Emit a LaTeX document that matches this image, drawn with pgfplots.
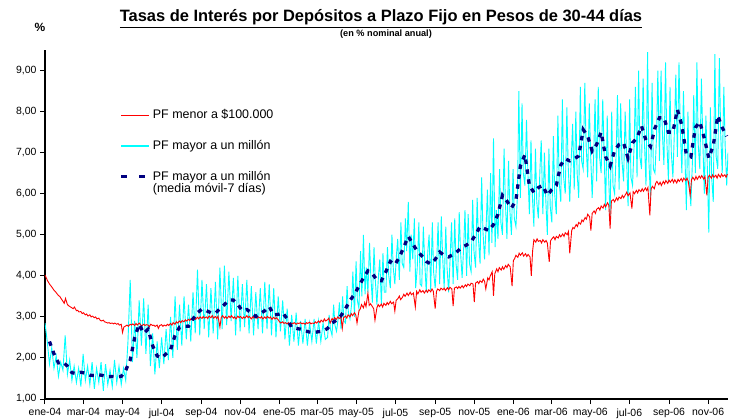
\documentclass[border=0pt]{standalone}
\usepackage{pgfplots}
\pgfplotsset{compat=1.18}
\usepackage{fontspec}
\setmainfont{Liberation Sans}
\definecolor{rojo}{RGB}{255,0,0}
\definecolor{celeste}{RGB}{0,255,255}
\definecolor{marino}{RGB}{0,0,128}

% PF menor a $100.000 (day since 1-Jan-2004, % n.a.)
\pgfplotstableread{
d v
0 4.02
2 3.95
4 3.88
7 3.80
9 3.76
11 3.72
14 3.65
16 3.62
18 3.58
21 3.52
23 3.50
25 3.45
28 3.38
30 3.33
32 3.45
35 3.30
37 3.27
39 3.25
42 3.22
44 3.20
46 3.24
49 3.15
51 3.16
53 3.12
56 3.13
58 3.08
60 3.10
63 3.05
65 3.07
67 3.02
70 3.05
72 3.00
74 3.02
77 2.98
79 3.00
81 2.95
84 2.97
86 2.92
88 2.90
91 2.92
93 2.88
95 2.87
98 2.85
100 2.86
102 2.84
105 2.85
107 2.83
109 2.85
112 2.82
114 2.84
116 2.80
119 2.82
121 2.62
123 2.75
126 2.78
128 2.80
130 2.77
133 2.82
135 2.80
137 2.83
140 2.79
142 2.84
144 2.80
147 2.85
149 2.81
151 2.78
154 2.82
156 2.79
158 2.81
161 2.80
163 2.76
165 2.82
168 2.79
170 2.80
172 2.77
175 2.80
177 2.72
179 2.79
182 2.81
184 2.77
186 2.80
189 2.78
191 2.82
193 2.79
196 2.84
198 2.80
200 2.86
203 2.82
205 2.88
207 2.85
210 2.90
212 2.86
214 2.91
217 2.88
219 2.93
221 2.90
224 2.94
226 2.91
228 2.96
231 2.92
233 2.97
235 2.94
238 2.99
240 2.95
242 3.00
245 2.96
247 3.01
249 2.97
252 3.00
254 2.96
256 3.02
259 2.98
261 3.03
263 2.97
266 3.01
268 2.96
270 3.02
273 2.75
275 2.98
277 3.03
280 2.97
282 3.01
284 2.96
287 3.02
289 2.98
291 3.03
294 2.97
296 3.00
298 2.95
301 3.02
303 2.98
305 3.01
308 2.96
310 3.00
312 2.97
315 3.03
317 2.98
319 3.01
322 2.95
324 3.00
326 2.97
329 3.02
331 2.96
333 3.00
336 2.97
338 3.01
340 2.95
343 3.00
345 2.96
347 3.01
350 2.97
352 3.00
354 2.94
357 2.99
359 2.95
361 2.98
364 2.93
366 2.88
368 2.85
371 2.88
373 2.84
375 2.86
378 2.83
380 2.86
382 2.82
385 2.85
387 2.83
389 2.86
392 2.82
394 2.85
396 2.84
399 2.86
401 2.83
403 2.85
406 2.82
408 2.86
410 2.84
413 2.87
415 2.83
417 2.85
420 2.84
422 2.88
424 2.85
427 2.90
429 2.86
431 2.92
434 2.88
436 2.95
438 2.90
441 2.93
443 2.97
445 2.85
448 2.96
450 2.92
452 2.98
455 2.94
457 3.00
459 2.96
462 2.99
464 2.72
466 2.98
469 3.02
471 2.97
473 3.05
476 3.00
478 3.08
480 3.03
483 3.10
485 3.05
487 2.85
490 3.15
492 3.19
494 3.30
497 3.22
499 3.35
501 3.25
504 3.58
506 3.28
508 3.32
511 3.25
513 3.20
515 2.92
518 3.22
520 3.30
522 3.25
525 3.31
527 3.24
529 3.33
532 3.28
534 3.35
536 3.30
539 3.38
541 3.32
544 3.36
546 3.14
548 3.40
551 3.45
553 3.51
555 3.42
558 3.48
560 3.55
562 3.50
565 3.58
567 3.52
570 3.60
572 3.54
575 3.58
578 3.24
580 3.62
582 3.56
585 3.66
587 3.60
590 3.64
592 3.58
595 3.65
597 3.60
599 3.66
602 3.61
604 3.68
606 3.63
609 3.20
611 3.62
613 3.68
616 3.64
618 3.70
621 3.66
623 3.70
625 3.64
628 3.71
630 3.66
632 3.72
635 3.68
637 3.26
639 3.70
642 3.73
644 3.69
646 3.74
648 3.70
651 3.76
653 3.71
656 3.78
658 3.74
660 3.80
663 3.76
665 3.82
668 3.80
670 3.36
672 3.82
675 3.86
677 3.81
679 3.88
682 3.84
684 3.92
686 3.87
688 3.68
691 3.95
693 3.90
695 4.00
698 4.10
700 3.51
702 4.05
705 4.17
707 4.10
709 4.20
712 4.14
714 4.22
716 4.16
719 4.25
721 4.20
723 4.28
726 4.22
729 3.75
731 4.37
733 4.42
735 4.50
738 4.45
740 4.55
742 4.50
745 4.56
747 4.48
750 4.54
752 4.47
754 4.52
757 4.46
759 4.00
761 4.60
763 4.88
766 4.82
768 4.90
770 4.84
773 4.86
775 4.80
777 4.88
780 4.82
782 4.86
784 4.80
787 4.34
789 4.85
791 4.90
794 4.95
796 4.88
798 4.96
801 4.92
803 5.00
805 4.95
808 5.02
810 4.96
812 5.05
815 5.00
817 5.08
819 4.55
822 5.10
824 5.18
826 5.15
829 5.25
831 5.20
833 5.30
836 5.26
838 5.36
840 5.32
843 5.42
845 5.38
847 5.50
850 5.44
852 5.10
854 5.52
857 5.58
859 5.52
861 5.62
864 5.66
866 5.60
868 5.70
871 5.65
873 5.74
875 5.68
878 5.78
880 5.72
882 5.15
884 5.82
887 5.86
889 5.80
892 5.90
894 5.84
896 5.92
899 5.88
901 5.96
903 5.90
906 5.98
908 6.04
910 5.95
913 6.02
916 5.64
918 6.05
920 6.00
923 6.08
925 6.02
927 6.10
930 6.05
932 6.12
934 6.06
937 6.14
939 6.08
941 6.15
944 5.47
946 6.12
948 6.18
951 6.12
953 6.25
955 6.30
958 6.22
960 6.28
962 6.20
965 6.30
967 6.24
969 6.32
972 6.25
974 6.33
976 6.28
979 6.35
981 6.27
983 6.34
986 6.26
988 6.35
990 6.30
993 6.37
995 6.30
997 6.38
1000 6.32
1002 6.38
1004 6.30
1007 5.96
1009 6.34
1011 6.40
1014 6.33
1016 6.42
1018 6.35
1021 6.43
1023 6.38
1025 6.44
1028 6.36
1030 6.42
1033 5.96
1035 6.40
1037 6.45
1040 6.38
1042 6.46
1044 6.40
1047 6.45
1049 6.38
1051 6.47
1054 6.40
1056 6.48
1058 6.42
1061 6.46
1063 6.40
1065 6.48
}\menor

% PF mayor a un millon
\pgfplotstableread{
d v
0 2.85
3.5 2.4
7 1.85
10.5 2.25
14 1.75
17.5 2.05
21 1.55
24.5 1.9
28 1.7
31.5 2.55
35 1.6
38.5 1.95
42 1.45
45.5 1.8
49 1.4
52.5 1.75
56 1.3
59.5 2.1
63 1.45
66.5 1.8
70 1.35
73.5 1.9
77 1.25
80.5 1.75
84 1.4
87.5 1.9
91 1.2
94.5 1.85
98 1.35
101.5 1.7
105 1.3
108.5 1.95
112 1.4
115.5 1.8
119 1.35
122.5 1.75
126 1.45
129.5 2.4
133 3.9
136.5 1.9
140 2.9
143.5 2.0
147 3.4
150.5 2.3
154 3.45
157.5 2.1
161 3.3
164.5 1.8
168 2.6
171.5 1.6
175 2.4
178.5 1.75
182 2.5
185.5 1.85
189 2.7
192.5 1.95
196 3.0
199.5 2.0
203 3.5
206.5 2.2
210 3.3
213.5 2.3
217 3.5
220.5 2.45
224 3.3
227.5 2.4
231 3.6
234.5 2.6
238 4.15
241.5 2.55
245 3.9
248.5 2.7
252 3.8
255.5 2.5
259 3.7
262.5 2.6
266 3.85
269.5 2.45
273 4.2
276.5 2.7
280 4.25
283.5 2.8
287 4.1
290.5 2.9
294 3.95
297.5 2.55
301 4.0
304.5 2.65
308 3.8
311.5 2.75
315 3.9
318.5 2.6
322 3.75
325.5 2.55
329 3.6
332.5 2.7
336 3.7
339.5 2.6
343 3.85
346.5 2.7
350 3.8
353.5 2.55
357 3.7
360.5 2.5
364 3.5
367.5 2.65
371 3.4
374.5 2.45
378 3.2
381.5 2.3
385 3.05
388.5 2.4
392 3.1
395.5 2.3
399 2.9
402.5 2.35
406 2.95
409.5 2.3
413 2.85
416.5 2.4
420 2.95
423.5 2.35
427 2.9
430.5 2.4
434 2.85
437.5 2.45
441 2.5
443.5 3.05
445.5 2.7
448 2.55
450.5 3.3
452.5 2.8
455 2.65
457.5 2.95
459.5 3.35
462 2.7
464.5 3.5
466.5 2.9
469 2.85
471.5 3.75
473.5 3.1
476 2.95
478.5 3.3
480.5 4.1
483 3.0
485.5 4.35
487.5 3.4
490 3.2
492.5 4.6
494.5 3.5
497 5.0
499.5 3.55
501.5 4.2
504 3.6
506.5 4.8
508.5 4.0
511 3.35
513.5 4.7
515.5 3.9
518 3.3
520.5 4.0
522.5 4.4
525 3.3
527.5 4.55
529.5 3.6
532 3.6
534.5 4.7
536.5 4.0
539 3.7
541.5 5.0
543.5 4.2
546 3.8
548.5 4.5
550.5 4.9
553 3.9
555.5 5.3
557.5 4.3
560 4.2
562.5 5.4
564.5 4.6
567 5.8
569.5 4.1
571.5 5.0
574 4.4
576.5 5.4
578.5 3.7
581 4.2
583.5 5.3
585.5 3.8
588 3.75
590.5 5.2
592.5 4.4
595 3.6
597.5 4.6
599.5 5.0
602 3.65
604.5 5.3
606.5 4.1
609 3.7
611.5 4.4
613.5 5.3
616 3.8
618.5 5.45
620.5 4.5
623 3.7
625.5 5.2
627.5 4.2
630 3.6
632.5 4.5
634.5 5.3
637 3.8
639.5 5.4
641.5 4.3
644 3.9
646.5 5.55
648.5 4.6
651 3.95
653.5 4.7
655.5 5.6
658 4.0
660.5 5.5
662.5 4.3
665 4.1
667.5 5.85
669.5 4.6
672 4.2
674.5 5.9
676.5 4.9
679 4.3
681.5 6.4
683.5 5.1
686 4.4
688.5 5.2
690.5 6.1
693 4.5
695.5 6.5
697.5 4.8
700 7.35
702.5 4.7
704.5 5.6
707 4.9
709.5 6.6
711.5 5.3
714 5.0
716.5 7.1
718.5 5.8
721 4.9
723.5 6.8
725.5 5.6
728 5.0
730.5 6.6
732.5 5.4
735 5.2
737.5 6.0
739.5 8.5
742 5.9
744.5 8.2
746.5 6.5
749 6.2
751.5 7.8
753.5 6.6
756 5.5
758.5 7.3
760.5 6.0
763 5.2
765.5 7.1
767.5 5.8
770 5.4
772.5 6.6
774.5 7.3
777 5.5
779.5 7.0
781.5 5.9
784 5.0
786.5 7.1
788.5 5.7
791 5.3
793.5 7.4
795.5 6.0
798 5.5
800.5 7.9
802.5 6.3
805 5.8
807.5 8.3
809.5 6.4
812 6.0
814.5 8.1
816.5 6.7
819 5.8
821.5 6.9
823.5 7.7
826 6.1
828.5 8.0
830.5 6.5
833 5.9
835.5 8.6
837.5 6.8
840 6.6
842.5 8.7
844.5 7.2
847 6.4
849.5 8.2
851.5 7.0
854 5.9
856.5 7.0
858.5 8.3
861 6.3
863.5 8.6
865.5 6.9
868 6.5
870.5 8.3
872.5 7.1
875 5.6
877.5 7.9
879.5 6.5
882 5.4
884.5 8.0
886.5 6.2
889 6.0
891.5 7.0
893.5 8.4
896 6.1
898.5 8.2
900.5 6.8
903 6.3
905.5 8.0
907.5 7.0
910 5.7
912.5 8.3
914.5 6.4
917 6.2
919.5 7.2
921.5 8.6
924 6.4
926.5 9.0
928.5 6.9
931 6.6
933.5 8.8
935.5 7.3
938 6.2
940.5 9.45
942.5 6.8
945 5.9
947.5 8.7
949.5 6.6
952 6.5
954.5 7.4
956.5 9.0
959 6.8
961.5 9.0
963.5 7.5
966 6.7
968.5 9.2
970.5 7.3
973 6.3
975.5 8.6
977.5 7.0
980 6.4
982.5 7.6
984.5 8.9
987 6.9
989.5 9.2
991.5 7.6
994 6.5
996.5 8.5
998.5 7.1
1001 5.6
1003.5 8.0
1005.5 6.3
1008 5.7
1010.5 6.8
1012.5 8.4
1015 6.5
1017.5 9.2
1019.5 7.2
1022 6.6
1024.5 8.8
1026.5 7.4
1029 6.0
1031.5 7.9
1033.5 6.8
1036 5.05
1038.5 8.1
1040.5 6.4
1043 5.8
1045.5 9.4
1047.5 6.9
1050 6.6
1052.5 9.3
1054.5 7.5
1057 6.5
1059.5 8.6
1061.5 7.2
1064 6.2
1066 7.0
}\mayor

% media movil 7 dias
\pgfplotstableread{
d v
7 2.4
14 2.1
21 1.88
28 1.9
35 1.8
42 1.64
49 1.62
56 1.65
63 1.63
70 1.58
77 1.57
84 1.59
91 1.57
98 1.54
105 1.55
112 1.54
119 1.55
126 1.7
133 1.95
140 2.5
147 2.82
154 2.6
161 2.7
168 2.3
175 2.05
182 2.0
189 2.1
196 2.2
203 2.55
210 2.75
217 2.77
224 2.77
231 2.95
238 3.1
245 3.19
252 3.15
259 3.1
266 3.09
273 3.2
280 3.3
287 3.41
294 3.41
301 3.3
308 3.15
315 3.18
322 3.1
329 3.01
336 3.08
343 3.15
350 3.25
357 3.05
364 3.06
371 3.1
378 2.95
385 2.74
392 2.72
399 2.7
406 2.66
413 2.63
420 2.62
427 2.64
434 2.65
441 2.72
448 2.85
455 2.92
462 3.03
469 3.2
476 3.4
483 3.55
490 3.75
497 3.95
504 4.12
511 4.05
518 3.9
525 3.88
532 4.1
539 4.35
546 4.27
553 4.45
560 4.7
567 4.96
574 4.78
581 4.6
588 4.49
595 4.35
602 4.29
609 4.4
616 4.58
623 4.5
630 4.46
637 4.52
644 4.6
651 4.7
658 4.75
665 4.83
672 5.0
679 5.2
686 5.15
693 5.1
700 5.25
707 5.5
714 5.96
721 5.82
728 5.65
735 5.84
742 6.68
749 6.95
756 6.2
763 6.03
770 6.15
777 6.2
784 5.96
791 6.1
798 6.2
805 6.7
812 6.85
819 6.8
826 6.85
833 6.92
840 7.56
847 7.4
854 7.04
861 7.2
868 7.5
875 6.9
882 6.68
889 7.05
896 7.2
903 7.24
910 6.87
917 7.24
924 7.36
931 7.65
938 7.3
945 7.15
952 7.6
959 7.85
966 7.85
973 7.5
980 7.5
987 8.05
994 7.66
1001 6.95
1008 6.9
1015 7.61
1022 7.75
1029 7.35
1036 6.87
1043 7.17
1050 7.9
1057 7.61
1064 7.4
}\media

\begin{document}
\begin{tikzpicture}
\useasboundingbox (-45bp,-20bp) rectangle (688bp,399bp);
\begin{axis}[
  at={(0,0)}, anchor=south west,
  scale only axis, width=683bp, height=349bp,
  xmin=0, xmax=1066, ymin=1, ymax=9.5,
  axis x line*=bottom, axis y line*=left,
  axis line style={line width=1.6bp, black},
  tick align=outside, major tick length=5bp,
  tick style={line width=1bp, black},
  ytick={1,2,3,4,5,6,7,8,9},
  xtick={0,60,121,182,244,305,366,425,486,547,609,670,731,790,851,912,974,1035},
  xticklabels={ene-04,mar-04,may-04,jul-04,sep-04,nov-04,ene-05,mar-05,may-05,jul-05,sep-05,nov-05,ene-06,mar-06,may-06,jul-06,sep-06,nov-06},
  /pgf/number format/assume math mode=true,
  yticklabel style={/pgf/number format/.cd, fixed, fixed zerofill, precision=2, use comma},
  ticklabel style={font=\fontsize{10.5}{12}\selectfont},
  xticklabel style={yshift=-1bp},
  legend style={at={(0.109,0.835)}, anchor=north west, draw=none, fill=none,
    font=\fontsize{12.5}{12}\selectfont, row sep=16bp, cells={anchor=base west},
    inner sep=0pt},
]
\addlegendimage{legend image code/.code={\draw[rojo, line width=1.2bp] (0bp,3.6bp) -- (28bp,3.6bp);}}
\addlegendentry{PF menor a \$100.000}
\addlegendimage{legend image code/.code={\draw[celeste, line width=1.3bp] (0bp,3.6bp) -- (28bp,3.6bp);}}
\addlegendentry{PF mayor a un millón}
\addlegendimage{legend image code/.code={\draw[marino, line width=3.3bp, dash pattern=on 6bp off 12bp] (0bp,3.6bp) -- (28bp,3.6bp);}}
\addlegendentry{\vtop{\hbox{PF mayor a un millón}\hbox{(media móvil-7 días)}}}
\addplot[celeste, line width=0.9bp, forget plot] table[x=d, y=v] {\mayor};
\addplot[rojo, line width=0.9bp, forget plot] table[x=d, y=v] {\menor};
\addplot[marino, line width=3.3bp, dash pattern=on 4.5bp off 5.5bp, forget plot] table[x=d, y=v] {\media};
\end{axis}
\node[anchor=base, font=\fontsize{16.5}{18}\selectfont\bfseries] at (336bp,377bp) {\underline{Tasas de Interés por Depósitos a Plazo Fijo en Pesos de 30-44 días}};
\node[anchor=base, font=\fontsize{9.2}{10}\selectfont\bfseries] at (341bp,362bp) {(en \% nominal anual)};
\node[anchor=base, font=\fontsize{12}{14}\selectfont\bfseries] at (-5bp,367bp) {\%};
\end{tikzpicture}
\end{document}
